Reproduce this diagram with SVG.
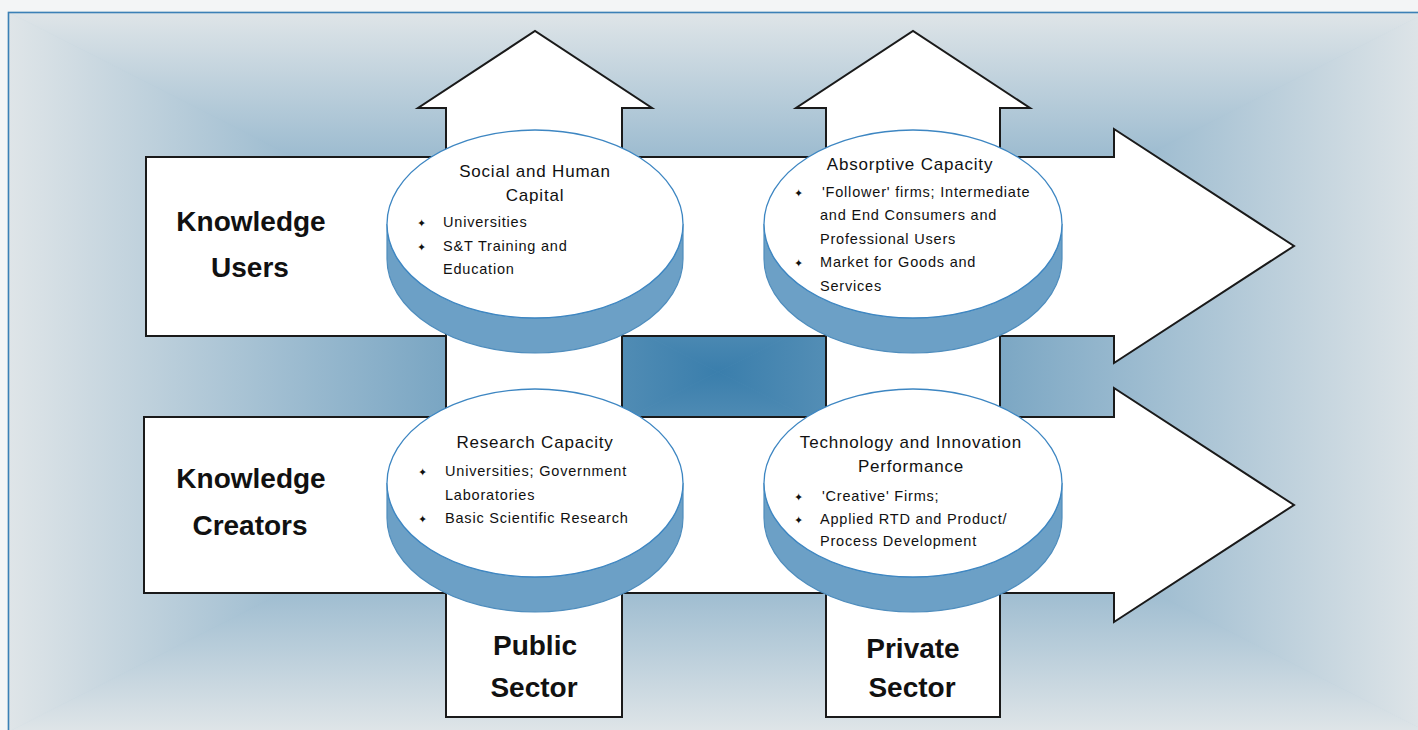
<svg xmlns="http://www.w3.org/2000/svg" width="1418" height="730" viewBox="0 0 1418 730">
<defs>
<linearGradient id="gL" gradientUnits="userSpaceOnUse" x1="8" y1="0" x2="718" y2="0"><stop offset="0" stop-color="#dfe5e8"/><stop offset="1" stop-color="#3a7eac"/></linearGradient>
<linearGradient id="gR" gradientUnits="userSpaceOnUse" x1="1428" y1="0" x2="718" y2="0"><stop offset="0" stop-color="#dfe5e8"/><stop offset="1" stop-color="#3a7eac"/></linearGradient>
<linearGradient id="gT" gradientUnits="userSpaceOnUse" x1="0" y1="12" x2="0" y2="372"><stop offset="0" stop-color="#dfe5e8"/><stop offset="1" stop-color="#3a7eac"/></linearGradient>
<linearGradient id="gB" gradientUnits="userSpaceOnUse" x1="0" y1="732" x2="0" y2="372"><stop offset="0" stop-color="#dfe5e8"/><stop offset="1" stop-color="#3a7eac"/></linearGradient>
</defs>
<style>
.arrow{fill:#ffffff;stroke:#1a1a1a;stroke-width:2;stroke-linejoin:miter}
.side{fill:#6ca0c6;stroke:#4f8dbd;stroke-width:1.2}
.top{fill:#ffffff;stroke:#3d86c2;stroke-width:1.3}
.ttl{font-family:"Liberation Sans",Arial,sans-serif;font-size:17px;letter-spacing:0.8px;fill:#111;text-anchor:middle}
.bl{font-family:"Liberation Sans",Arial,sans-serif;font-size:14.5px;letter-spacing:0.8px;fill:#111}
.bu{font-family:"DejaVu Sans",sans-serif;font-size:11px;fill:#111}
.big{font-family:"Liberation Sans",Arial,sans-serif;font-size:28px;font-weight:bold;fill:#111;text-anchor:middle}
</style>
<rect x="0" y="0" width="1418" height="730" fill="#f3f5f6"/>
<g id="background">
<rect x="8" y="12" width="1420" height="720" fill="#8fb3cc"/>
<polygon points="8,12 718,372 8,732" fill="url(#gL)" stroke="url(#gL)" stroke-width="0.8"/>
<polygon points="1428,12 718,372 1428,732" fill="url(#gR)" stroke="url(#gR)" stroke-width="0.8"/>
<polygon points="8,12 1428,12 718,372" fill="url(#gT)" stroke="url(#gT)" stroke-width="0.8"/>
<polygon points="8,732 1428,732 718,372" fill="url(#gB)" stroke="url(#gB)" stroke-width="0.8"/>
<rect x="8.5" y="12.5" width="1420" height="730" fill="none" stroke="#3b80b6" stroke-width="1.6"/>
</g>
<g id="connectors">
<polygon id="arrow-users" class="arrow" points="146,157 1114,157 1114,129 1294,246 1114,363 1114,336 146,336"/>
<polygon id="arrow-creators" class="arrow" points="144,417 1114,417 1114,388 1294,505 1114,622 1114,593 144,593"/>
<polygon id="arrow-public" class="arrow" points="446,717 446,108 418,108 535,31 652,108 622,108 622,717"/>
<polygon id="arrow-private" class="arrow" points="826,717 826,108 796,108 913,31 1030,108 1000,108 1000,717"/>
</g>
<g id="label-knowledge-users">
<text class="big" x="251" y="231">Knowledge</text>
<text class="big" x="250" y="277">Users</text>
</g>
<g id="label-knowledge-creators">
<text class="big" x="251" y="488">Knowledge</text>
<text class="big" x="250" y="535">Creators</text>
</g>
<g id="label-public-sector">
<text class="big" x="535" y="655">Public</text>
<text class="big" x="534" y="697">Sector</text>
</g>
<g id="label-private-sector">
<text class="big" x="913" y="658">Private</text>
<text class="big" x="912" y="697">Sector</text>
</g>
<g id="disc-social-human-capital">
<path class="side" d="M387,224 L387,259 A148,94 0 0 0 683,259 L683,224 A148,94 0 0 1 387,224 Z"/>
<ellipse class="top" cx="535" cy="224" rx="148" ry="94"/>
<text class="ttl" x="535" y="177">Social and Human</text>
<text class="ttl" x="535" y="201">Capital</text>
<text class="bu" x="417" y="227">✦</text>
<text class="bl" x="443" y="227">Universities</text>
<text class="bu" x="417" y="251">✦</text>
<text class="bl" x="443" y="251">S&amp;T Training and</text>
<text class="bl" x="443" y="274">Education</text>
</g>
<g id="disc-absorptive-capacity">
<path class="side" d="M764,224 L764,259 A149,94 0 0 0 1062,259 L1062,224 A149,94 0 0 1 764,224 Z"/>
<ellipse class="top" cx="913" cy="224" rx="149" ry="94"/>
<text class="ttl" x="910" y="170">Absorptive Capacity</text>
<text class="bu" x="794" y="197">✦</text>
<text class="bl" x="822" y="197">'Follower' firms; Intermediate</text>
<text class="bl" x="820" y="220">and End Consumers and</text>
<text class="bl" x="820" y="244">Professional Users</text>
<text class="bu" x="794" y="267">✦</text>
<text class="bl" x="820" y="267">Market for Goods and</text>
<text class="bl" x="820" y="291">Services</text>
</g>
<g id="disc-research-capacity">
<path class="side" d="M387,483 L387,518 A148,94 0 0 0 683,518 L683,483 A148,94 0 0 1 387,483 Z"/>
<ellipse class="top" cx="535" cy="483" rx="148" ry="94"/>
<text class="ttl" x="535" y="448">Research  Capacity</text>
<text class="bu" x="418" y="476">✦</text>
<text class="bl" x="445" y="476">Universities; Government</text>
<text class="bl" x="445" y="500">Laboratories</text>
<text class="bu" x="418" y="523">✦</text>
<text class="bl" x="445" y="523">Basic Scientific Research</text>
</g>
<g id="disc-technology-innovation">
<path class="side" d="M764,483 L764,518 A149,94 0 0 0 1062,518 L1062,483 A149,94 0 0 1 764,483 Z"/>
<ellipse class="top" cx="913" cy="483" rx="149" ry="94"/>
<text class="ttl" x="911" y="448">Technology and Innovation</text>
<text class="ttl" x="911" y="472">Performance</text>
<text class="bu" x="794" y="501">✦</text>
<text class="bl" x="822" y="501">'Creative' Firms;</text>
<text class="bu" x="794" y="524">✦</text>
<text class="bl" x="820" y="524">Applied RTD and Product/</text>
<text class="bl" x="820" y="546">Process Development</text>
</g>
</svg>
